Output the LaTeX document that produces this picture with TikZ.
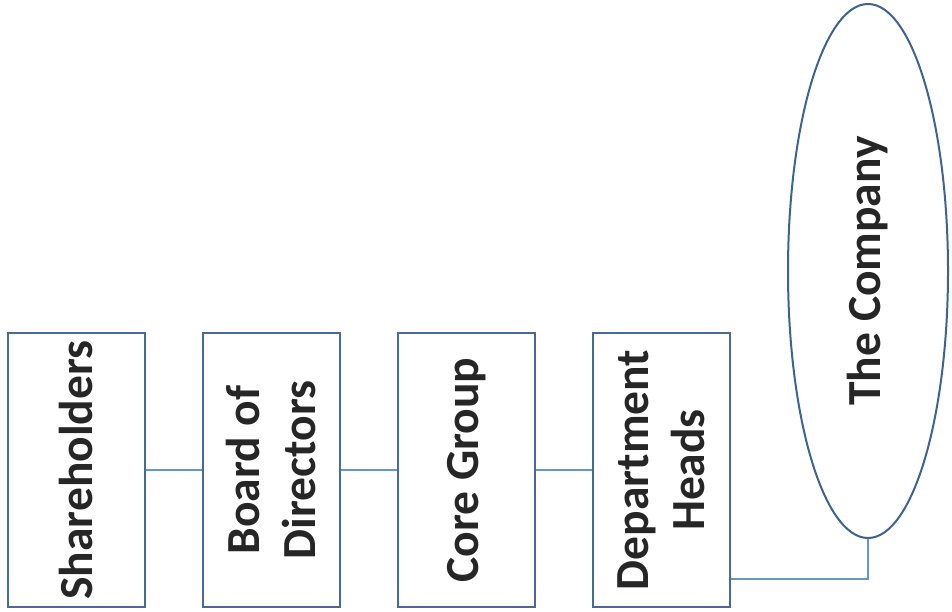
\documentclass[tikz,border=0pt]{standalone}
\usepackage{fontspec}
\setmainfont{Carlito}
\usetikzlibrary{positioning, calc, shapes.geometric}
\definecolor{boxline}{HTML}{4A6A96}
\definecolor{linkline}{HTML}{6A95C5}
\definecolor{ovalline}{HTML}{3E6390}

\begin{document}
\begin{tikzpicture}[x=1pt, y=-1pt,
			level/.style = {rectangle, draw = boxline, line width = 2.2pt, rotate = 90, minimum width = 274pt, minimum height = 137pt, inner sep = 0pt, align = center, font = \fontsize{47.5}{56}\selectfont\bfseries, text = black!85},
			whole/.style = {ellipse, draw = ovalline, line width = 2pt, rotate = 90, minimum width = 534pt, minimum height = 160pt, inner sep = 0pt, align = center, font = \fontsize{47.5}{56}\selectfont\bfseries, text = black!85},
			link/.style = {draw = linkline, line width = 1.5pt},
		]
		\useasboundingbox (0,0) rectangle (952,612);
		\node[level](SH) at (76.5,470){Shareholders};
		\node[level](BD) at (271.5,470){Board of\\Directors};
		\node[level](CG) at (466.5,470){Core Group};
		\node[level](DH) at (661.5,470){Department\\Heads};
		\node[whole](CO) at (868,271){The Company};

		\draw[link](SH)--(BD);
		\draw[link](BD)--(CG);
		\draw[link](CG)--(DH);
		\coordinate (DHout) at ([yshift=-109pt]DH.south);
		\draw[link](DHout)-|(CO.west);

	\end{tikzpicture}
\end{document}
